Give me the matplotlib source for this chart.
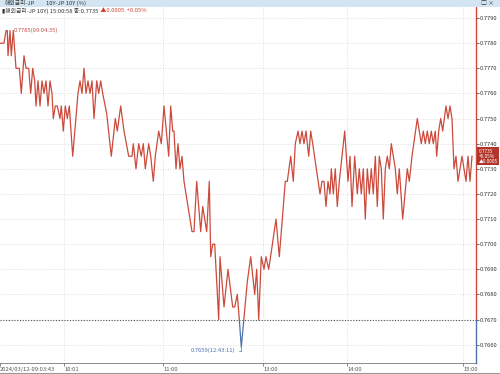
import matplotlib
matplotlib.use('Agg')
import matplotlib.pyplot as plt
from matplotlib.patches import Rectangle
from matplotlib.lines import Line2D

plt.rcParams['font.family'] = ['Liberation Sans Narrow', 'Noto Sans CJK KR', 'DejaVu Sans']

# position along the (non-linear) time axis and yield of JP 10Y
tick_pos = [0, 4, 6, 7.3, 8, 10, 11.3, 13.3, 16, 19.3, 21.3, 24, 26, 28.7, 30.7, 32.7,
            34.7, 36, 38, 40, 42, 44, 46, 48, 50, 52, 53.3, 55.3, 57.3, 60, 61.3, 63.3,
            65.3, 67.3, 69.3, 72.7, 78, 80, 82, 84, 86, 88, 90, 92, 94, 96.7, 98.7, 100.7,
            102.7, 106.7, 111.3, 115.3, 117.3, 120.7, 124, 128.7, 132, 133.3, 136, 138.7,
            141.3, 143.3, 145.3, 148.7, 150.7, 153.3, 155.3, 158.7, 161.3, 164,
            168.7, 170.7, 172.7, 174, 176, 178, 180, 182, 184, 188, 192, 194, 196.7, 200.7,
            202.7, 206.7, 209.3, 210.7, 212.7, 214.7, 218.7, 220, 224, 228, 232.7, 234.7,
            237.3, 239.3, 241.3, 247.3, 250.7, 254.7, 256.7, 258.7, 261.3, 264, 266, 268.7,
            271.3, 276, 279.3, 285.3, 287.3, 290.7, 293.3, 295.3, 298, 300, 302, 304, 306,
            308.7, 310.7, 312.7, 320, 322, 324, 326, 328, 330, 331.3, 333.3, 335.3, 337.3,
            339.3, 342, 344.7, 348, 350, 352, 354.7, 357.3, 359.3, 361.3, 363.3, 365.3,
            367.3, 369.3, 371.3, 373.3, 375.3, 377.3, 379.3, 381.3, 383.3, 385.3, 387.3,
            389.3, 391.3, 395.3, 397.3, 399.3, 402.7, 407.3, 409.3, 412, 417.3, 421.3,
            423.3, 425.3, 427.3, 429.3, 431.3, 433.3, 435.3, 436.7, 438.7, 440.7, 442.7,
            446, 448, 450, 452, 454, 456, 458, 462, 466, 468, 470, 472]
yld = [0.7780, 0.7780, 0.7785, 0.7785, 0.7775, 0.7785, 0.7775, 0.7785, 0.7770, 0.7770,
       0.7760, 0.7775, 0.7770, 0.7770, 0.7760, 0.7770, 0.7765, 0.7755, 0.7765, 0.7755,
       0.7765, 0.7760, 0.7765, 0.7755, 0.7765, 0.7760, 0.7750, 0.7755, 0.7755, 0.7750,
       0.7755, 0.7745, 0.7755, 0.7750, 0.7755, 0.7735, 0.7760, 0.7765, 0.7760, 0.7770,
       0.7760, 0.7765, 0.7760, 0.7765, 0.7750, 0.7765, 0.7760, 0.7765, 0.7760, 0.7752,
       0.7735, 0.7750, 0.7745, 0.7755, 0.7745, 0.7735, 0.7735, 0.7740, 0.7730, 0.7740,
       0.7735, 0.7740, 0.7730, 0.7740, 0.7735, 0.7725, 0.7735, 0.7745, 0.7740, 0.7755,
       0.7735, 0.7755, 0.7745, 0.7745, 0.7730, 0.7740, 0.7730, 0.7735, 0.7725, 0.7715,
       0.7705, 0.7705, 0.7725, 0.7705, 0.7715, 0.7705, 0.7725, 0.7695, 0.7700, 0.7700,
       0.7670, 0.7695, 0.7675, 0.7690, 0.7675, 0.7675, 0.7680, 0.7670, 0.7659, 0.7685,
       0.7695, 0.7680, 0.7690, 0.7670, 0.7695, 0.7690, 0.7695, 0.7690, 0.7697, 0.7710,
       0.7695, 0.7725, 0.7725, 0.7735, 0.7725, 0.7740, 0.7745, 0.7740, 0.7745, 0.7740,
       0.7745, 0.7735, 0.7745, 0.7740, 0.7720, 0.7725, 0.7725, 0.7715, 0.7725, 0.7720,
       0.7730, 0.7720, 0.7730, 0.7715, 0.7725, 0.7735, 0.7745, 0.7725, 0.7735, 0.7715,
       0.7735, 0.7720, 0.7730, 0.7720, 0.7730, 0.7710, 0.7730, 0.7720, 0.7730, 0.7720,
       0.7735, 0.7715, 0.7735, 0.7730, 0.7710, 0.7730, 0.7735, 0.7730, 0.7740, 0.7730,
       0.7720, 0.7730, 0.7710, 0.7730, 0.7725, 0.7735, 0.7750, 0.7740, 0.7745, 0.7740,
       0.7745, 0.7740, 0.7745, 0.7740, 0.7745, 0.7735, 0.7745, 0.7750, 0.7745, 0.7755,
       0.7750, 0.7755, 0.7750, 0.7730, 0.7735, 0.7725, 0.7735, 0.7725, 0.7735, 0.7725,
       0.7735]

base = 0.7670
close_txt = ['0.7735', '+0.05%', '▲0.0005']
hi_time = '09:04:35'
lo_time = '12:43:11'
x_ticks = [0, 64, 163, 263, 347, 463]
x_labels = ['2024/03/12-09:03:43', '10:01', '11:00', '13:00', '14:00', '15:00']
y_ticks = [0.7660, 0.7670, 0.7680, 0.7690, 0.7700, 0.7710, 0.7720,
           0.7730, 0.7740, 0.7750, 0.7760, 0.7770, 0.7780, 0.7790]

red = '#cc4a3c'
blue = '#4d72b0'
fs = 4.2

fig = plt.figure(figsize=(5, 3.74), dpi=100)
ax = fig.add_axes([0, 11 / 374, 476 / 500, 356 / 374])
x0, x1 = 0, 476
y0, y1 = 0.76527, 0.77944
ax.set_xlim(x0, x1)
ax.set_ylim(y0, y1)

for y in y_ticks:
    ax.axhline(y, color='#d4d4d4', lw=0.6, ls=(0, (1, 2)), zorder=0)
for x in x_ticks[1:]:
    ax.axvline(x, color='#d4d4d4', lw=0.6, ls=(0, (1, 2)), zorder=0)
ax.axhline(base, color='#555555', lw=0.8, ls=(0, (1, 1.5)), zorder=1)

up, = ax.plot(tick_pos, yld, color=red, lw=0.9, zorder=3)
up.set_clip_path(Rectangle((x0, base), x1 - x0, y1 - base, transform=ax.transData))
dn, = ax.plot(tick_pos, yld, color=blue, lw=0.9, zorder=3)
dn.set_clip_path(Rectangle((x0, y0), x1 - x0, base - y0, transform=ax.transData))

# right axis line, red above the base level, blue below
ax.plot([x1, x1], [base, y1], color=red, lw=1.0, clip_on=False, zorder=4)
ax.plot([x1, x1], [y0, base], color=blue, lw=1.0, clip_on=False, zorder=4)

hi = max(yld)
i_hi = max(i for i, v in enumerate(yld) if v == hi)
ax.text(tick_pos[i_hi] + 0.5, hi, '%.4f(%s)' % (hi, hi_time), fontsize=fs,
        color='#c0504a', ha='left', va='center')
lo = min(yld)
i_lo = yld.index(lo)
ax.annotate('%.4f(%s)' % (lo, lo_time), xy=(tick_pos[i_lo], lo),
            xytext=(-4, -2.5), textcoords='offset points', fontsize=fs,
            color=blue, ha='right', va='center',
            arrowprops=dict(arrowstyle='-', color=blue, lw=0.5,
                            connectionstyle='angle,angleA=0,angleB=90,rad=0',
                            shrinkA=0, shrinkB=0))

ax.yaxis.tick_right()
ax.set_yticks(y_ticks)
ax.set_yticklabels(['%.4f' % v for v in y_ticks], fontsize=fs, color='#333333')
ax.tick_params(axis='y', length=2, width=0.5, pad=1, colors='#333333')
ax.set_xticks(x_ticks)
ax.set_xticklabels(x_labels, fontsize=fs, color='#333333', ha='left')
ax.tick_params(axis='x', length=2.5, width=0.5, pad=0.3, colors='#555555')
for s in ['left', 'top', 'right']:
    ax.spines[s].set_visible(False)
ax.spines['bottom'].set_color('#777777')
ax.spines['bottom'].set_linewidth(0.6)

# last price box on the right axis
ax.text(1.006, yld[-1], '\n'.join(close_txt), transform=ax.get_yaxis_transform(),
        fontsize=3.4, color='white', ha='left', va='center', linespacing=1.0,
        bbox=dict(boxstyle='square,pad=0.3', fc='#b3342a', ec='none'), zorder=5)

# window header bar and info line
fig.patches.append(Rectangle((0, 367 / 374), 1, 7 / 374, transform=fig.transFigure,
                             fc='#d3e5f2', ec='none', zorder=0))
fig.text(0.01, 370.5 / 374, '해외금리-JP', fontsize=fs, color='#333333', va='center')
fig.text(0.092, 370.5 / 374, '10Y-JP 10Y (%)', fontsize=fs, color='#333333', va='center')
fig.text(0.962, 370.5 / 374, '□ ×', fontsize=fs, color='#333333', va='center')
info = fig.text(0.003, 363 / 374, '▮해외금리-JP 10Y) 15:00:58 종:0.7735', fontsize=fs,
                color='#333333', va='center')
ax.annotate('  ▲0.0005  +0.05%', xy=(1, 0.5), xycoords=info, fontsize=fs,
            color='#d04030', ha='left', va='center', annotation_clip=False)
fig.add_artist(Line2D([0, 1], [1 / 374, 1 / 374], color='#999999', lw=0.8))

fig.savefig('out.png', dpi=100)
